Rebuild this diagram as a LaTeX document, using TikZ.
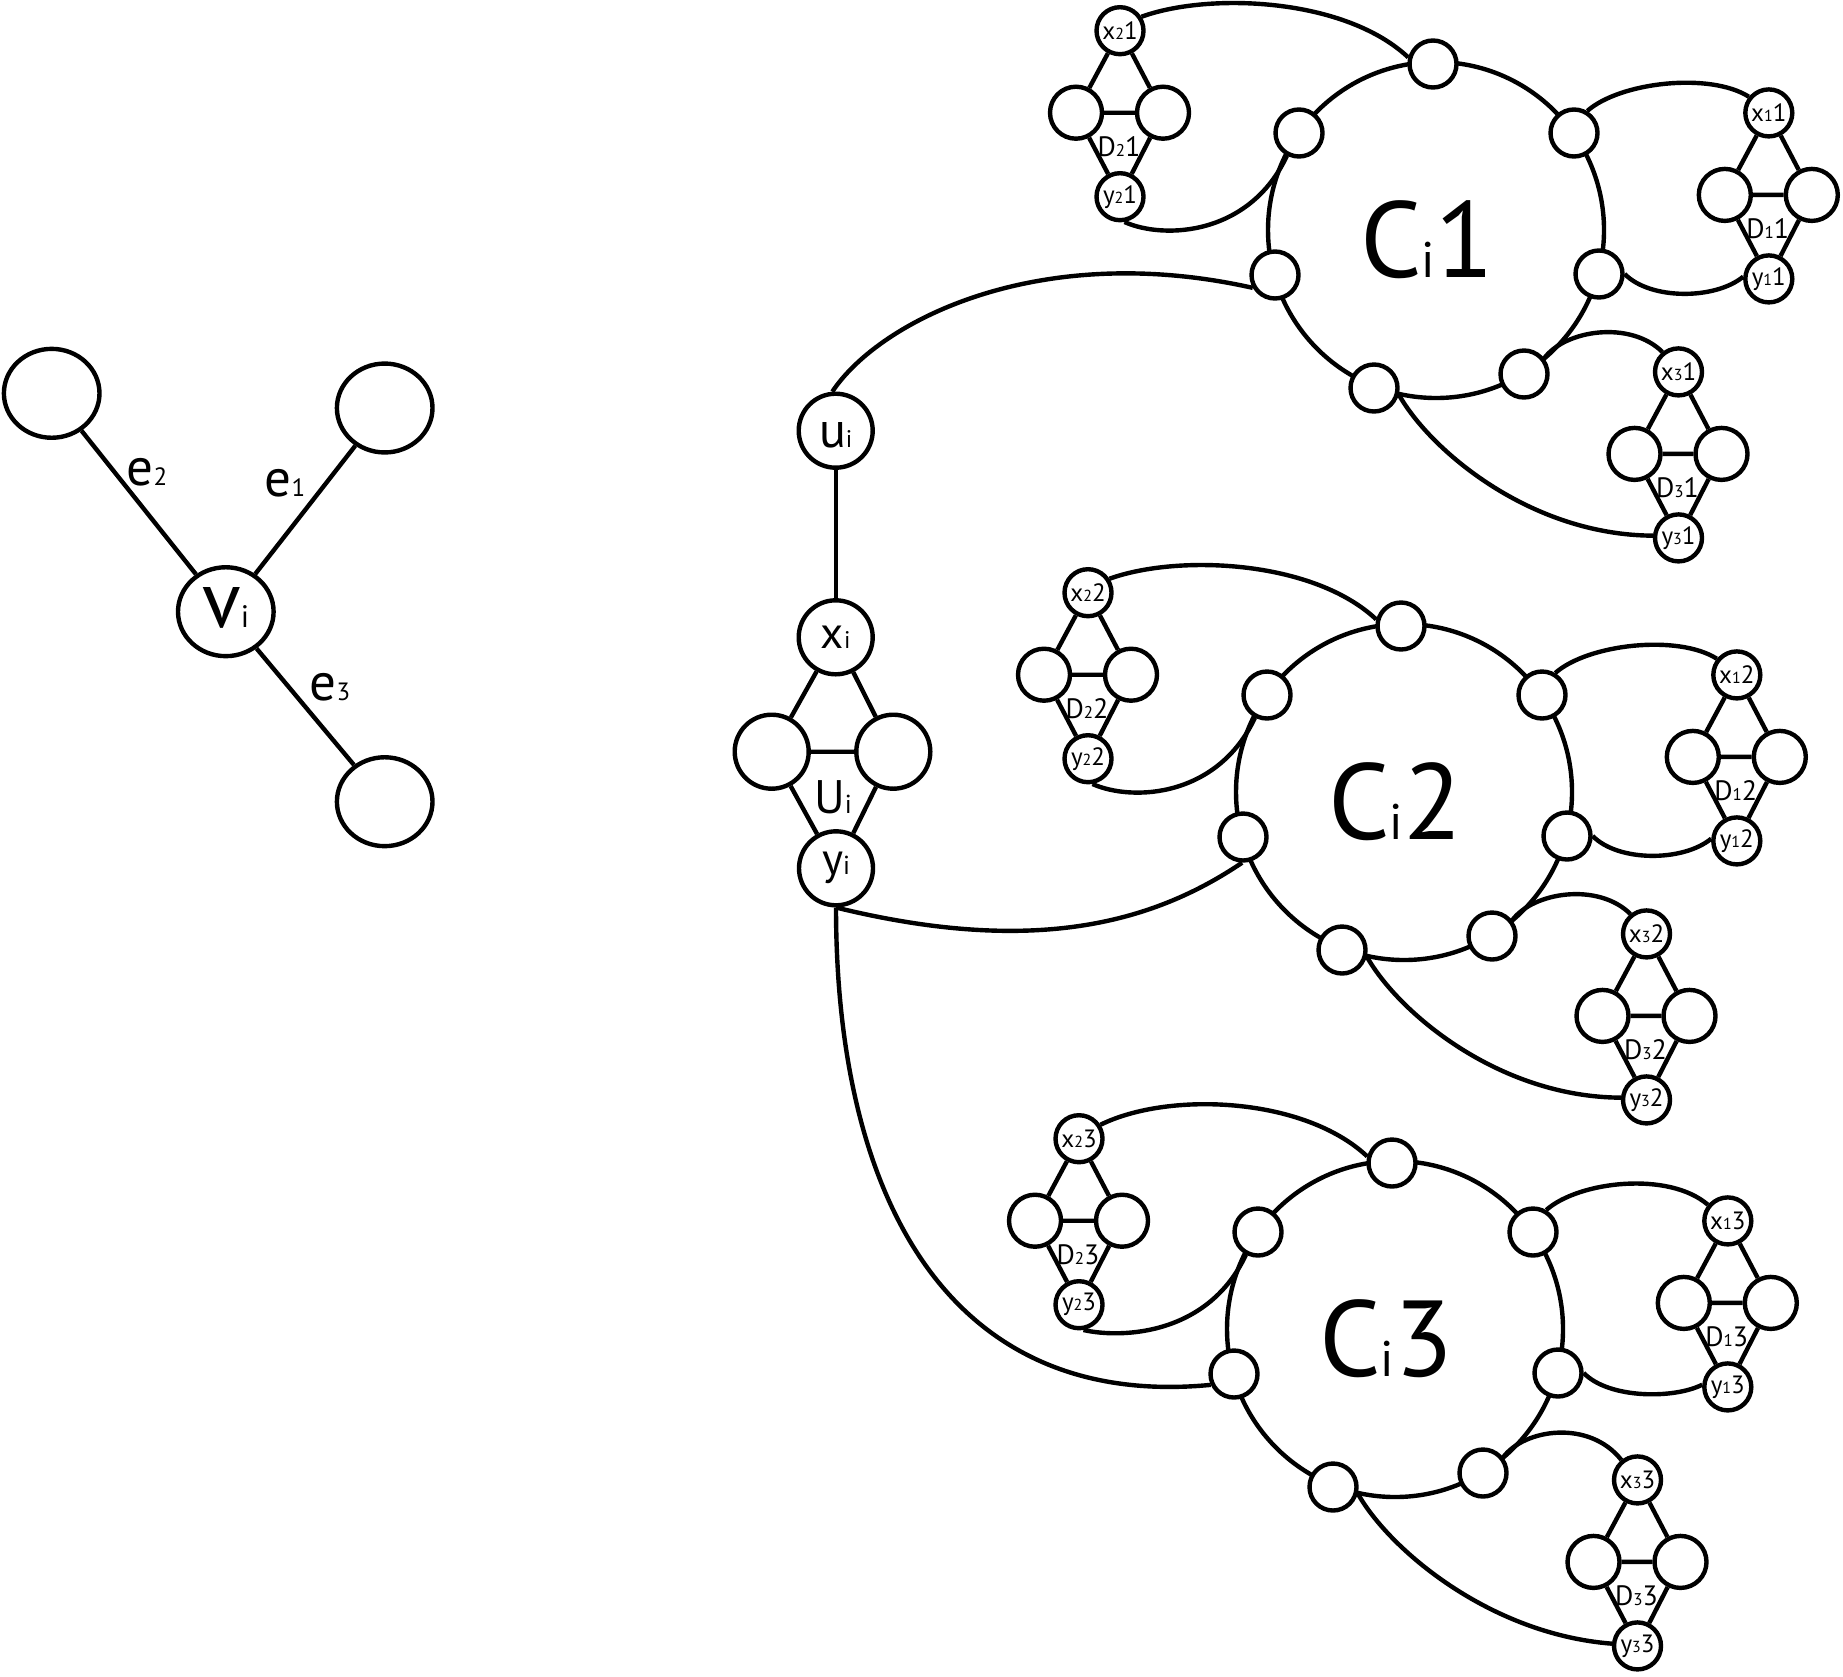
\documentclass[tikz,border=0pt]{standalone}
\usepackage{fontspec}
\setmainfont{PT Sans}
\usetikzlibrary{shapes.geometric}
\newcommand\smx[2]{{\fontsize{#1}{#1}\selectfont #2}}
\newcommand\fs[1]{\fontsize{#1}{#1}\selectfont}
\tikzset{
  ln/.style={line width=4.4pt},
  rn/.style={circle, draw, line width=4.4pt, fill=white, minimum size=47pt, inner sep=0pt},
  gs/.style={rn, font=\fs{25pt}},
  gb/.style={circle, draw, line width=4.4pt, fill=white, minimum size=52pt, inner sep=0pt},
  bn/.style={circle, draw, line width=4.4pt, fill=white, minimum size=74pt, inner sep=0pt},
  en/.style={ellipse, draw, line width=4.4pt, fill=white, minimum width=95.6pt, minimum height=88.9pt, inner sep=0pt},
  lab/.style={anchor=base, inner sep=0pt},
}
% gadget: #1 name prefix, #2 index, #3 block, #4 #5 position of its x node
\newcommand\gadget[5]{%
  \begin{scope}[shift={(#4,#5)}]
    \node[gs] (#1x) at (0,0) {x\smx{16pt}{#2}#3};
    \node[gb] (#1L) at (-44,82) {};
    \node[gb] (#1R) at (43,82) {};
    \node[gs] (#1y) at (0,166) {y\smx{16pt}{#2}#3};
    \node[lab, font=\fs{28pt}] (#1D) at (-1,126) {D\smx{17pt}{#2}#3};
    \draw[ln] (#1x) -- (#1L) (#1x) -- (#1R) (#1L) -- (#1R) (#1L) -- (#1y) (#1R) -- (#1y);
  \end{scope}}
% block: #1 number, #2 #3 shift, #4 extra vertical shift of gadgets
\newcommand\cblock[4]{%
  \begin{scope}[shift={(#2,#3)}]
    \coordinate (cc#1) at (1436,230);
    \draw[ln] (cc#1) circle[radius=168];
    \node[rn] (T#1) at (1433,64) {};
    \node[rn] (UR#1) at (1574,133) {};
    \node[rn] (R#1) at (1599,274) {};
    \node[rn] (LR#1) at (1524,374) {};
    \node[rn] (LL#1) at (1374,388) {};
    \node[rn] (L#1) at (1275,275) {};
    \node[rn] (UL#1) at (1299,133) {};
    \node[lab, font=\fs{108pt}] (C#1) at (1427,277) {C\smx{50pt}{i}#1};
    \begin{scope}[shift={(0,#4)}]
      \gadget{g2#1}{2}{#1}{1120}{30.7}
      \gadget{g1#1}{1}{#1}{1768.8}{112.9}
      \gadget{g3#1}{3}{#1}{1678.5}{371.9}
    \end{scope}
    \draw[ln] (g2#1x.33) .. controls (1210,-8) and (1345,-2) .. (T#1.165);
    \draw[ln] (g2#1y.280) .. controls (1165,240) and (1250,235) .. (UL#1.242);
    \draw[ln] (UR#1.59) .. controls (1620,82) and (1710,72) .. (g1#1x.141);
    \draw[ln] (R#1.0) .. controls (1650,300) and (1715,300) .. (g1#1y.175);
    \draw[ln] (LR#1.38) .. controls (1565,330) and (1630,320) .. (g3#1x.129);
    \draw[ln] (LL#1.345) .. controls (1430,450) and (1530,535) .. (g3#1y.175);
  \end{scope}}

\begin{document}
\begin{tikzpicture}[x=1pt, y=-1pt]
  \fill[white] (0,0) rectangle (1843,1676);
  \useasboundingbox (0,0) rectangle (1843,1676);

  % left graph
  \node[en] (tl) at (51.7,393.3) {};
  \node[en] (tr) at (384.7,408) {};
  \node[en] (br) at (384.7,801.7) {};
  \node[en, font=\fs{80pt}, text height=33pt] (vi) at (225.8,611.7) {v\smx{31pt}{i}};
  \draw[ln] (vi) -- (tl);
  \draw[ln] (vi) -- (tr);
  \draw[ln] (vi) -- (br);
  \node[lab, font=\fs{53pt}] (e2) at (147,485) {e\smx{25pt}{2}};
  \node[lab, font=\fs{53pt}] (e1) at (285,496.7) {e\smx{25pt}{1}};
  \node[lab, font=\fs{53pt}] (e3) at (330,700) {e\smx{25pt}{3}};

  % middle column
  \node[bn, font=\fs{50pt}, text height=35pt] (ui) at (835.7,430.7) {u\smx{24pt}{i}};
  \node[bn, font=\fs{45pt}] (xi) at (835.7,637.3) {x\smx{24pt}{i}};
  \node[bn] (Ul) at (771.7,751.7) {};
  \node[bn] (Ur) at (893.3,751.7) {};
  \node[bn, font=\fs{45pt}] (yi) at (836,868.3) {y\smx{26pt}{i}};
  \node[lab, font=\fs{47pt}] (Ui) at (833,813.3) {U\smx{26pt}{i}};
  \draw[ln] (ui) -- (xi);
  \draw[ln] (xi) -- (Ul) (xi) -- (Ur) (Ul) -- (Ur) (Ul) -- (yi) (Ur) -- (yi);

  % three blocks
  \cblock{1}{0}{0}{0}
  \cblock{2}{-32}{562}{0}
  \cblock{3}{-41}{1099}{9}

  % long connectors
  \draw[ln] (ui.95) .. controls (880,320) and (1040,240) .. (L1.210);
  \draw[ln] (yi.south) .. controls (1030,955) and (1150,925) .. (L2.268);
  \draw[ln] (yi.south) .. controls (836,1200) and (950,1410) .. (L3.205);
\end{tikzpicture}
\end{document}
